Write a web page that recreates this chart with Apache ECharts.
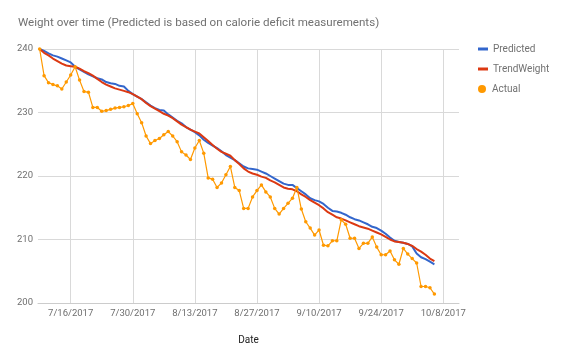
<!DOCTYPE html>
<html>
<head>
<meta charset="utf-8">
<script src="https://cdn.jsdelivr.net/npm/echarts@6/dist/echarts.min.js"></script>
<style>
html,body{margin:0;padding:0;background:#fff;}
#chart{width:569px;height:361px;}
</style>
</head>
<body>
<div id="chart"></div>
<script>
// ---- Data (one value per day, starting 7/9/2017) ----
const startDate = '7/9/2017';
const tickLabels = ['7/16/2017','7/30/2017','8/13/2017','8/27/2017','9/10/2017','9/24/2017','10/8/2017'];
const yTicks = [200, 210, 220, 230, 240];

const predicted = [
  240.0,239.7,239.3,239.0,238.8,238.5,238.2,237.9,237.2,236.8,
  236.4,236.0,235.7,235.4,235.2,234.8,234.6,234.5,234.2,234.1,
  233.4,232.9,232.5,232.1,231.6,231.1,230.7,230.4,230.3,229.7,
  229.2,228.7,228.3,227.7,227.3,226.9,226.4,225.7,225.2,224.8,
  224.4,223.9,223.3,222.9,222.5,222.0,221.5,221.2,221.1,221.0,
  220.7,220.4,220.0,219.6,219.2,218.8,218.6,218.6,218.1,217.6,
  217.1,216.5,216.2,216.0,215.6,215.0,214.5,214.4,214.2,213.9,
  213.5,213.2,213.0,212.7,212.4,212.0,211.8,211.4,210.9,210.3,
  209.8,209.6,209.5,209.3,208.9,207.8,207.2,206.9,206.5,206.1
];
const trendWeight = [
  240.0,239.4,239.0,238.5,238.1,237.7,237.4,237.3,237.2,236.9,
  236.5,236.2,235.8,235.3,234.8,234.4,234.1,233.8,233.6,233.4,
  233.2,232.9,232.5,232.1,231.5,231.0,230.6,230.2,229.8,229.5,
  229.1,228.6,228.1,227.7,227.3,227.0,226.7,226.1,225.5,224.9,
  224.3,223.8,223.5,223.2,222.5,221.9,221.2,220.7,220.4,220.2,
  219.9,219.7,219.3,219.0,218.6,218.2,218.0,217.9,217.6,217.1,
  216.7,216.2,215.8,215.4,214.9,214.3,213.9,213.5,213.3,213.0,
  212.7,212.4,212.1,211.9,211.7,211.4,211.1,210.8,210.4,210.0,
  209.7,209.6,209.5,209.3,209.0,208.5,208.1,207.6,207.0,206.6
];
const actual = [
  240.0,235.8,234.7,234.4,234.2,233.7,234.8,235.9,237.2,235.1,
  233.3,233.2,230.8,230.8,230.2,230.3,230.5,230.7,230.8,230.9,
  231.1,231.4,229.8,228.4,226.3,225.1,225.6,225.9,226.5,227.0,
  226.3,225.4,223.8,223.3,222.6,224.4,225.6,223.6,219.7,219.5,
  218.2,218.9,220.2,221.5,218.2,217.7,214.9,214.9,216.7,217.7,
  218.6,217.5,216.7,214.9,214.0,214.9,215.7,216.5,218.2,214.8,
  212.8,211.8,210.7,211.5,209.1,209.0,209.8,209.8,213.1,212.4,
  210.2,210.2,208.6,209.4,209.4,210.4,208.8,207.6,207.6,208.2,
  206.8,206.1,208.6,207.7,207.0,206.3,202.6,202.6,202.4,201.4
];

// ---- Helpers ----
const DAY = 86400000;
function parseMDY(s){ const p = s.split('/').map(Number); return Date.UTC(p[2], p[0]-1, p[1]); }
function fmtMDY(v){ const d = new Date(v); return (d.getUTCMonth()+1) + '/' + d.getUTCDate() + '/' + d.getUTCFullYear(); }
const t0 = parseMDY(startDate);
const dayTimes = actual.map((_, i) => t0 + i * DAY);
const pair = arr => arr.map((v, i) => [dayTimes[i], v]);
const tickValues = tickLabels.map(parseMDY);

const FONT = 'Roboto, Arial, sans-serif';
const chart = echarts.init(document.getElementById('chart'), null, {renderer: 'canvas'});
chart.setOption({
  animation: false,
  backgroundColor: '#ffffff',
  title: {
    text: 'Weight over time (Predicted is based on calorie deficit measurements)',
    left: 18, top: 17, padding: 0,
    textStyle: {fontFamily: FONT, fontSize: 11.6, fontWeight: 'normal', color: '#717171'}
  },
  legend: [
    {
      data: ['Predicted', 'TrendWeight'],
      orient: 'vertical', left: 478, top: 43, padding: 0,
      icon: 'rect', itemWidth: 10, itemHeight: 3, itemGap: 8,
      textStyle: {fontFamily: FONT, fontSize: 10, color: '#717171', lineHeight: 12}
    },
    {
      data: ['Actual'],
      orient: 'vertical', left: 478, top: 83, padding: 0,
      icon: 'circle', itemWidth: 10, itemHeight: 8,
      textStyle: {fontFamily: FONT, fontSize: 10, color: '#717171', lineHeight: 12}
    }
  ],
  grid: {left: 38, right: 110, top: 49, bottom: 58, containLabel: false},
  xAxis: {
    type: 'value',
    min: t0 - 0.37 * DAY,
    max: t0 + 94.55 * DAY,
    name: 'Date', nameLocation: 'middle', nameGap: 32,
    nameTextStyle: {fontFamily: FONT, fontSize: 10, color: '#222222'},
    axisLine: {show: true, lineStyle: {color: '#cccccc', width: 1}},
    axisTick: {show: false, customValues: tickValues},
    axisLabel: {
      customValues: tickValues, formatter: fmtMDY, margin: 6,
      fontFamily: FONT, fontSize: 9.5, color: '#6f6f6f'
    },
    splitLine: {show: true, lineStyle: {color: '#d9d9d9', width: 1}}
  },
  yAxis: {
    type: 'value', min: yTicks[0], max: yTicks[yTicks.length-1], interval: 10,
    axisLine: {show: false}, axisTick: {show: false},
    axisLabel: {margin: 5, fontFamily: FONT, fontSize: 9.5, color: '#6f6f6f'},
    splitLine: {show: true, lineStyle: {color: '#d9d9d9', width: 1}}
  },
  series: [
    {
      name: 'Predicted', type: 'line', data: pair(predicted),
      showSymbol: false, symbol: 'none',
      lineStyle: {color: '#3366cc', width: 2}, itemStyle: {color: '#3366cc'}
    },
    {
      name: 'TrendWeight', type: 'line', data: pair(trendWeight),
      showSymbol: false, symbol: 'none',
      lineStyle: {color: '#dc3912', width: 2}, itemStyle: {color: '#dc3912'}
    },
    {
      name: 'Actual', type: 'line', data: pair(actual),
      symbol: 'circle', symbolSize: 3.5, showSymbol: true,
      lineStyle: {color: '#ff9900', width: 1.2}, itemStyle: {color: '#ff9900'}
    }
  ]
});
</script>
</body>
</html>
